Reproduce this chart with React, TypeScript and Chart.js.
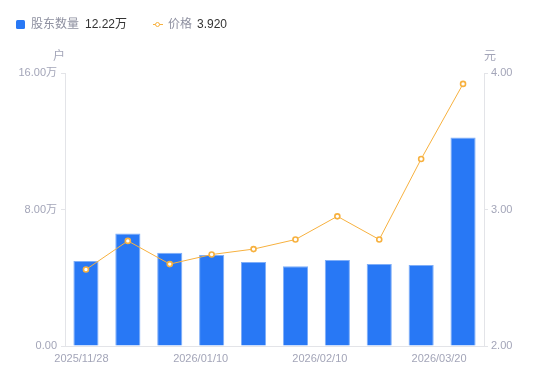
import React, { useEffect, useRef } from "react";
import { Chart, registerables } from "chart.js";

Chart.register(...registerables);

const categories = [
  "2025/11/28", "2025/12/10", "2025/12/20", "2026/01/10", "2026/01/20",
  "2026/01/31", "2026/02/10", "2026/02/28", "2026/03/10", "2026/03/20",
];
const holders = [4.98, 6.6, 5.47, 5.33, 4.92, 4.67, 5.04, 4.8, 4.75, 12.22];
const prices = [2.56, 2.77, 2.6, 2.67, 2.71, 2.78, 2.95, 2.78, 3.37, 3.92];
const bottomLabels = ["2025/11/28", "2026/01/10", "2026/02/10", "2026/03/20"];
const leftTicks = [0, 8, 16];
const rightTicks = [2, 3, 4];

const FONT = "'Liberation Sans', 'Noto Sans CJK SC', sans-serif";
const TICK_COLOR = "#A3A5B8";
const AXIS_COLOR = "#E3E4E8";
const BAR_COLOR = "#2878F5";
const LINE_COLOR = "#F7B13F";

const X2_MIN = -0.138;
const X2_MAX = 3.377;

const axisNames = {
  id: "axisNames",
  afterDraw(chart: any) {
    const { ctx, chartArea } = chart;
    ctx.save();
    ctx.font = `12px ${FONT}`;
    ctx.fillStyle = TICK_COLOR;
    ctx.textBaseline = "middle";
    ctx.textAlign = "center";
    ctx.fillText("户", chartArea.left - 6, chartArea.top - 16);
    ctx.fillText("元", chartArea.right + 6, chartArea.top - 16);
    ctx.restore();
  },
};

export default function App() {
  const ref = useRef<HTMLCanvasElement>(null);
  useEffect(() => {
    if (!ref.current) return;
    const chart = new Chart(ref.current, {
      type: "bar",
      data: {
        labels: categories,
        datasets: [
          {
            type: "line",
            label: "价格",
            data: prices,
            yAxisID: "y1",
            xAxisID: "x",
            borderColor: LINE_COLOR,
            borderWidth: 1,
            pointRadius: 2.5,
            pointBorderWidth: 1.6,
            pointBackgroundColor: "#ffffff",
            pointBorderColor: LINE_COLOR,
            tension: 0,
            order: 0,
          } as any,
          {
            type: "bar",
            label: "股东数量",
            data: holders,
            yAxisID: "y",
            xAxisID: "x",
            backgroundColor: BAR_COLOR,
            borderColor: "#7FAEF8",
            borderWidth: 1,
            barPercentage: 0.6,
            categoryPercentage: 1,
            order: 1,
          },
        ],
      },
      options: {
        responsive: false,
        animation: false,
        layout: { padding: { top: 73, left: 0, right: 0, bottom: 0 } },
        plugins: { legend: { display: false }, tooltip: { enabled: false } },
        scales: {
          x: {
            type: "category",
            position: "bottom",
            grid: { display: false },
            border: { display: true, color: AXIS_COLOR },
            ticks: { display: false },
            afterFit: (s: any) => { s.height = 0; },
          },
          x2: {
            type: "linear",
            position: "bottom",
            offset: false,
            bounds: "data",
            beginAtZero: false,
            min: X2_MIN,
            max: X2_MAX,
            grid: { display: false, offset: false },
            border: { display: false },
            afterBuildTicks: (s: any) => {
              s.min = X2_MIN;
              s.max = X2_MAX;
              s.ticks = bottomLabels.map((_, i) => ({ value: i }));
            },
            ticks: {
              autoSkip: false,
              maxRotation: 0,
              padding: -2,
              color: TICK_COLOR,
              font: { size: 11, family: FONT },
              callback: (v: any) => bottomLabels[v] ?? "",
            },
            afterFit: (s: any) => { s.height = 35; },
          },
          y: {
            type: "linear",
            position: "left",
            min: 0,
            max: 16,
            afterBuildTicks: (s: any) => {
              s.ticks = leftTicks.map((v) => ({ value: v }));
            },
            grid: {
              display: true,
              drawOnChartArea: false,
              drawTicks: true,
              tickLength: 4,
              color: AXIS_COLOR,
            },
            border: { display: true, color: AXIS_COLOR },
            ticks: {
              padding: 4,
              color: TICK_COLOR,
              font: { size: 11, family: FONT },
              callback: (v: any) => (v === 0 ? "0.00" : Number(v).toFixed(2) + "万"),
            },
            afterFit: (s: any) => { s.width = 65; },
          },
          y1: {
            type: "linear",
            position: "right",
            min: 2,
            max: 4,
            afterBuildTicks: (s: any) => {
              s.ticks = rightTicks.map((v) => ({ value: v }));
            },
            grid: {
              display: true,
              drawOnChartArea: false,
              drawTicks: true,
              tickLength: 4,
              color: AXIS_COLOR,
            },
            border: { display: true, color: AXIS_COLOR },
            ticks: {
              padding: 3,
              color: TICK_COLOR,
              font: { size: 11, family: FONT },
              callback: (v: any) => Number(v).toFixed(2),
            },
            afterFit: (s: any) => { s.width = 66; },
          },
        },
      },
      plugins: [axisNames],
    } as any);
    return () => chart.destroy();
  }, []);

  const textStyle: React.CSSProperties = {
    position: "absolute",
    top: 16,
    fontSize: 12,
    lineHeight: "16px",
    fontFamily: FONT,
    whiteSpace: "nowrap",
  };

  return (
    <div style={{ position: "absolute", left: 0, top: 0, width: 550, height: 381, background: "#fff" }}>
      <canvas ref={ref} width={550} height={381} style={{ position: "absolute", left: 0, top: 0 }} />
      <div style={{ position: "absolute", left: 16, top: 20, width: 9, height: 9, borderRadius: 1.5, background: BAR_COLOR }} />
      <div style={{ ...textStyle, left: 31, color: "#8E90A0" }}>股东数量</div>
      <div style={{ ...textStyle, left: 85, color: "#333" }}>12.22万</div>
      <div style={{ position: "absolute", left: 153, top: 24, width: 10, height: 1, background: LINE_COLOR }} />
      <div style={{ position: "absolute", left: 155, top: 21.5, width: 3, height: 3, borderRadius: "50%", border: `1.5px solid ${LINE_COLOR}`, background: "#fff" }} />
      <div style={{ ...textStyle, left: 168, color: "#8E90A0" }}>价格</div>
      <div style={{ ...textStyle, left: 197, color: "#333" }}>3.920</div>
    </div>
  );
}
